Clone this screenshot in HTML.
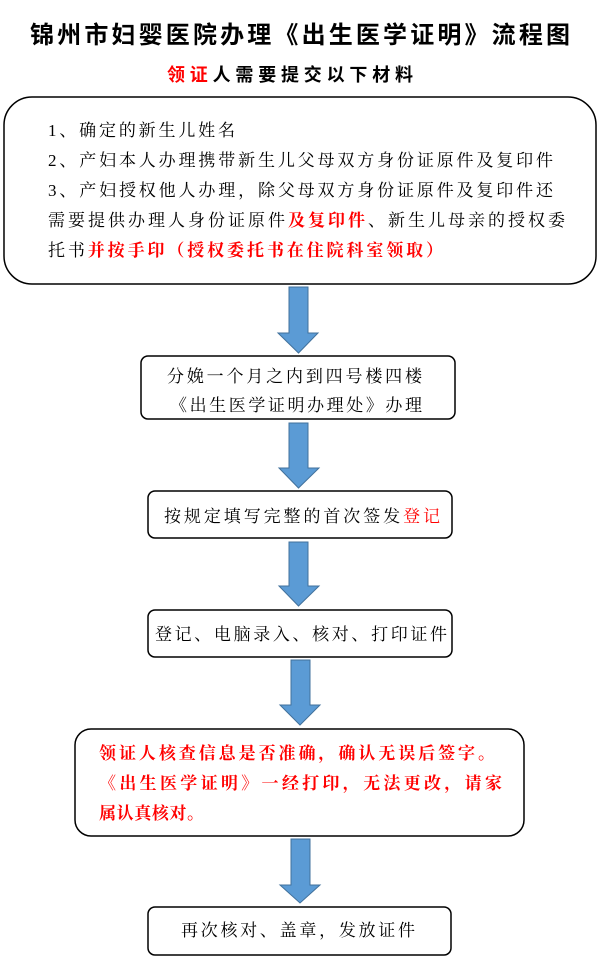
<!DOCTYPE html>
<html><head><meta charset="utf-8"><style>
html,body{margin:0;padding:0;background:#fff;}
svg{display:block;}
.t{font-family:"Liberation Sans","Noto Sans CJK SC",sans-serif;font-weight:bold;}
.s{font-family:"Liberation Serif","Noto Serif CJK SC",serif;}
</style></head><body>
<svg width="600" height="974" viewBox="0 0 600 974" xmlns="http://www.w3.org/2000/svg">
<text class="t" x="30" y="43" font-size="24" textLength="540" lengthAdjust="spacing" fill="#000">锦州市妇婴医院办理《出生医学证明》流程图</text>
<text class="t" x="167" y="81" font-size="18" textLength="246" lengthAdjust="spacing" fill="#000"><tspan fill="#f00">领证</tspan>人需要提交以下材料</text>

<g fill="none" stroke="#000" stroke-width="1.5">
<rect x="4" y="97" width="592" height="187" rx="28"/>
<rect x="141" y="356" width="314" height="63" rx="7"/>
<rect x="148" y="491" width="304" height="47" rx="7"/>
<rect x="148" y="610" width="304" height="47" rx="7"/>
<rect x="75" y="729" width="449" height="107" rx="16"/>
<rect x="148" y="907" width="303" height="48" rx="7"/>
</g>

<g class="s" font-size="17" fill="#000">
<text x="48" y="136" textLength="187" lengthAdjust="spacing">1、确定的新生儿姓名</text>
<text x="48" y="166" textLength="505" lengthAdjust="spacing">2、产妇本人办理携带新生儿父母双方身份证原件及复印件</text>
<text x="48" y="196" textLength="505" lengthAdjust="spacing">3、产妇授权他人办理，除父母双方身份证原件及复印件还</text>
<text x="48" y="226" textLength="517" lengthAdjust="spacing">需要提供办理人身份证原件<tspan fill="#f00" font-weight="bold">及复印件</tspan>、新生儿母亲的授权委</text>
<text x="48" y="256" textLength="395" lengthAdjust="spacing">托书<tspan fill="#f00" font-weight="bold">并按手印（授权委托书在住院科室领取）</tspan></text>

<text x="167" y="382" textLength="255" lengthAdjust="spacing">分娩一个月之内到四号楼四楼</text>
<text x="170" y="411" textLength="252" lengthAdjust="spacing">《出生医学证明办理处》办理</text>
<text x="164" y="522" textLength="276" lengthAdjust="spacing">按规定填写完整的首次签发<tspan fill="#f00">登记</tspan></text>
<text x="155" y="640" textLength="292" lengthAdjust="spacing">登记、电脑录入、核对、打印证件</text>
<text x="181" y="936" textLength="234" lengthAdjust="spacing">再次核对、盖章，发放证件</text>
</g>
<g class="s" font-size="17" fill="#f00" font-weight="bold">
<text x="99" y="759" textLength="396" lengthAdjust="spacing">领证人核查信息是否准确，确认无误后签字。</text>
<text x="99" y="789" textLength="403" lengthAdjust="spacing">《出生医学证明》一经打印，无法更改，请家</text>
<text x="99" y="819" textLength="105" lengthAdjust="spacing">属认真核对。</text>
</g>

<g fill="#5b9bd5" stroke="#41719c" stroke-width="1">
<polygon points="289,287 308,287 308,333 318,333 298.5,353 278,333 289,333"/>
<polygon points="289,423 308,423 308,468 319,468 298.5,488 279,468 289,468"/>
<polygon points="289,542 308,542 308,586 319,586 298.5,606 279,586 289,586"/>
<polygon points="291,660 310,660 310,705 320,705 300,725 280,705 291,705"/>
<polygon points="291,839 310,839 310,885 320,885 300,903 280,885 291,885"/>
</g>
</svg>
</body></html>
